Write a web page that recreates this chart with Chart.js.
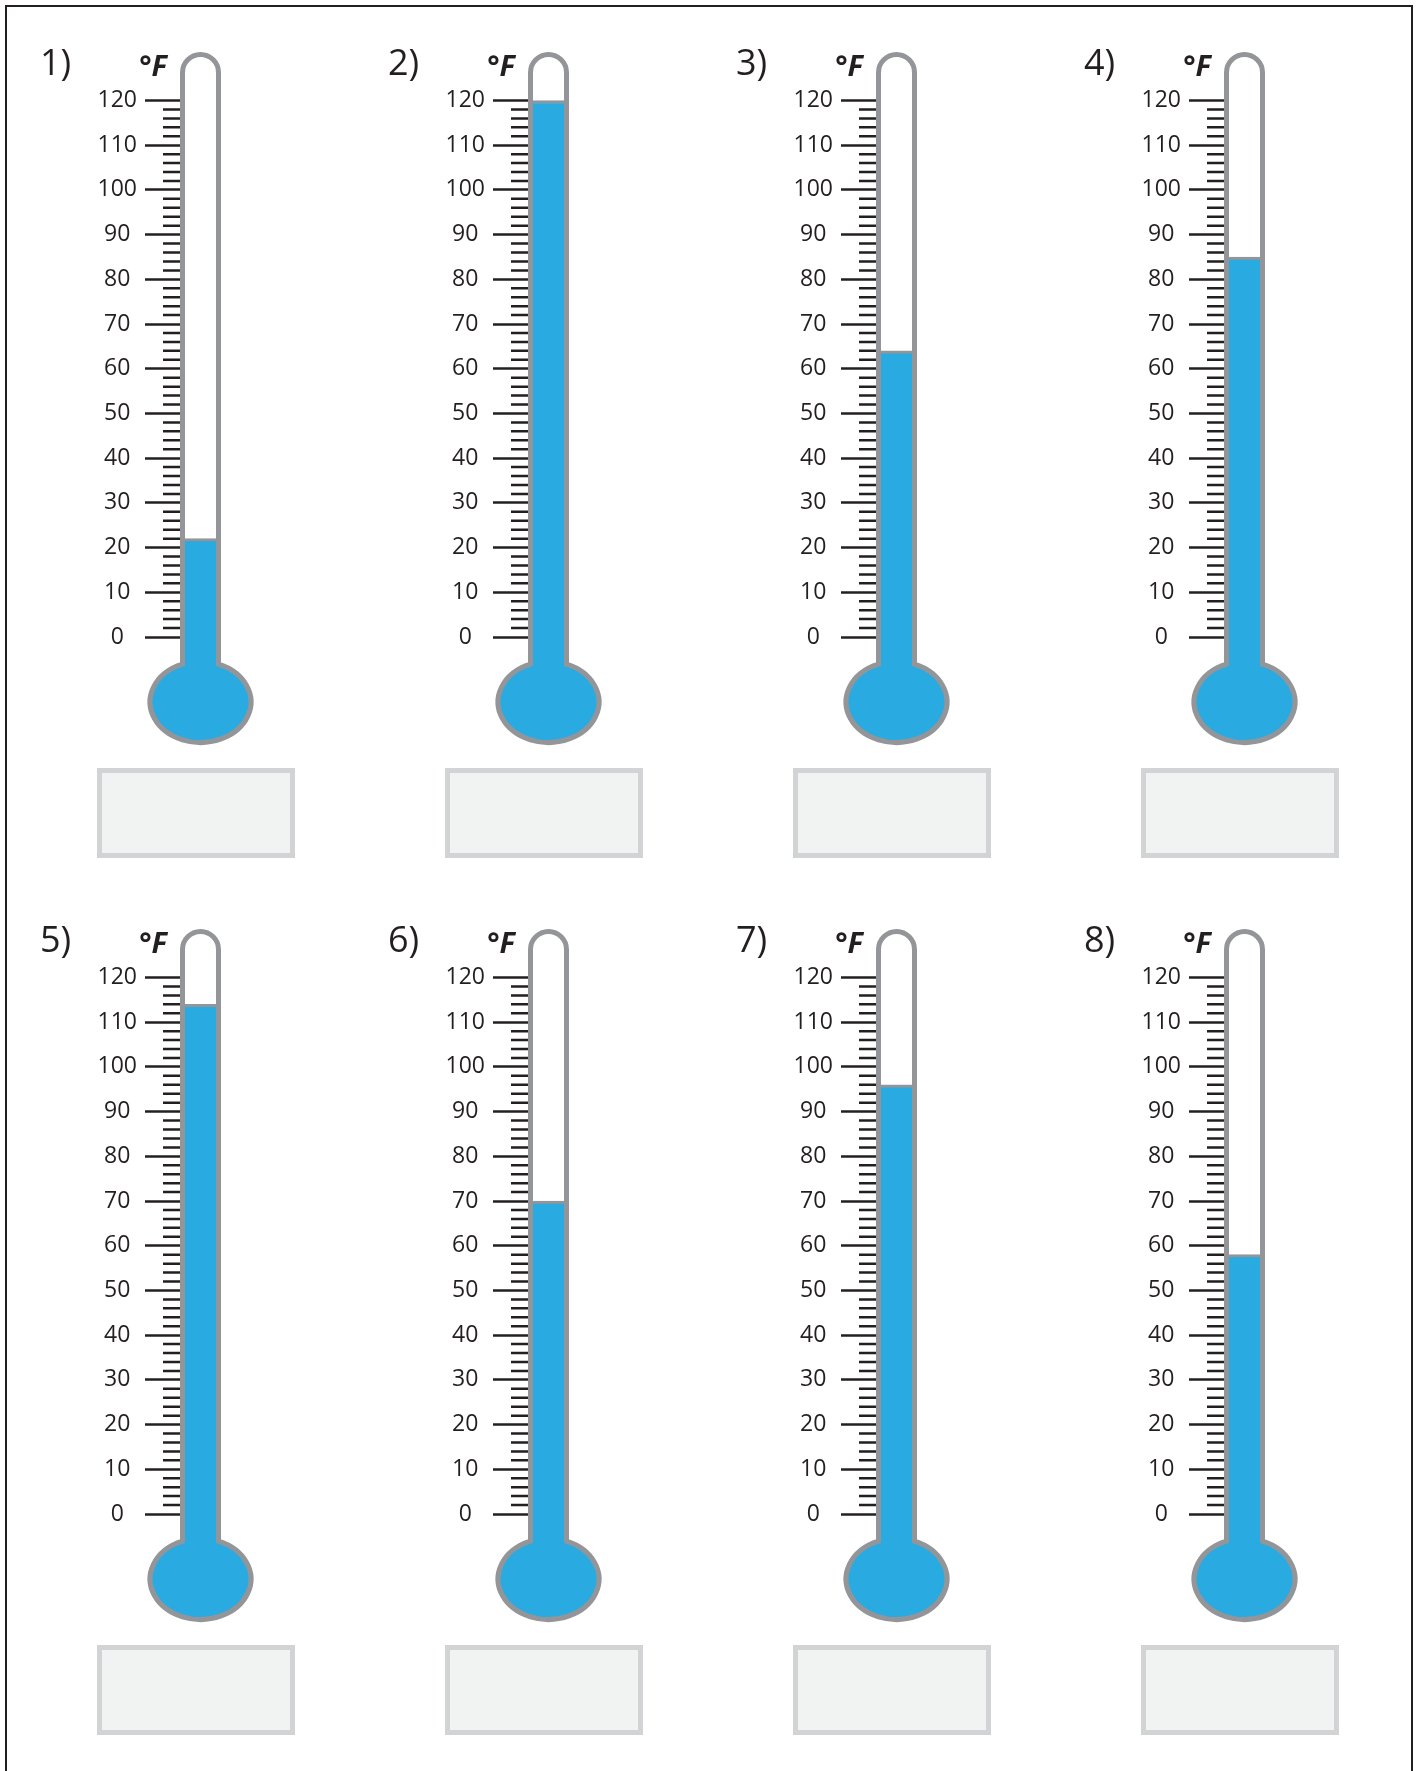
<!DOCTYPE html>
<html>
<head>
<meta charset="utf-8">
<title>Thermometers</title>
<script src="https://cdn.jsdelivr.net/npm/chart.js@4.4.1/dist/chart.umd.min.js"></script>
<style>
  html, body { margin: 0; padding: 0; background: #fff; }
  #page { position: relative; width: 1419px; height: 1771px; overflow: hidden; }
  #frame {
    position: absolute; left: 5px; top: 5px; width: 1408px; height: 1800px;
    box-sizing: border-box; border: 2px solid #231f20; border-bottom: none;
  }
  canvas { position: absolute; }
</style>
</head>
<body>
<div id="page"><div id="frame"></div></div>
<script>
// ── Data ──────────────────────────────────────────────────
const numbers  = ["1)", "2)", "3)", "4)", "5)", "6)", "7)", "8)"];
const temps    = [22, 120, 64, 85, 114, 70, 96, 58];
const unit     = "°F";
const scaleMin = 0;
const scaleMax = 120;
const majorStep = 10;
const minorStep = 2;

// ── Look ──────────────────────────────────────────────────
const CELL_W = 348, CELL_H = 877;
const INK    = "#231f20";
const GLASS  = "#939598";
const LIQUID = "#29abe2";
const FONT   = "'Open Sans', 'Noto Sans', sans-serif";

// ── Thermometer body, minor ticks, labels, answer box ─────
const thermoPlugin = {
  id: "thermo",
  beforeDatasetsDraw(chart) {
    const { ctx, chartArea: a, scales: { y } } = chart;
    const g = glassGeometry(a, y);

    ctx.save();
    // glass interior
    glassPath(ctx, g);
    ctx.fillStyle = "#fff";
    ctx.fill();
    // liquid in neck and bulb
    ctx.fillStyle = LIQUID;
    ctx.fillRect(g.cx - g.hw, y.getPixelForValue(scaleMin) - 1, g.hw * 2, g.jy - y.getPixelForValue(scaleMin) + 6);
    ctx.beginPath();
    ctx.ellipse(g.cx, g.by, g.rx, g.ry, 0, 0, Math.PI * 2);
    ctx.fill();

    // minor ticks
    ctx.strokeStyle = INK;
    ctx.lineWidth = 2.5;
    ctx.beginPath();
    for (let v = scaleMin; v <= scaleMax; v += minorStep) {
      if (v % majorStep === 0) continue;
      const py = y.getPixelForValue(v);
      ctx.moveTo(a.left - 22, py);
      ctx.lineTo(a.left, py);
    }
    ctx.stroke();
    ctx.restore();
  },
  afterDatasetsDraw(chart) {
    const { ctx, chartArea: a, scales: { y } } = chart;
    const g = glassGeometry(a, y);
    ctx.save();
    glassPath(ctx, g);
    ctx.strokeStyle = GLASS;
    ctx.lineWidth = 5;
    ctx.stroke();
    ctx.restore();
  },
  afterDraw(chart, args, opts) {
    const { ctx } = chart;
    ctx.save();
    ctx.fillStyle = INK;
    ctx.textBaseline = "alphabetic";
    ctx.textAlign = "left";
    ctx.font = `36px ${FONT}`;
    ctx.fillText(opts.number, 40, 75);

    ctx.textAlign = "right";
    ctx.font = `italic bold 29px ${FONT}`;
    ctx.fillText(unit, 167, 76);

    // answer box
    ctx.fillStyle = "#f1f2f2";
    ctx.strokeStyle = "#d1d3d4";
    ctx.lineWidth = 5;
    ctx.fillRect(99.5, 770.5, 193, 85);
    ctx.strokeRect(99.5, 770.5, 193, 85);
    ctx.restore();
  }
};

function glassGeometry(a, y) {
  const cx = (a.left + a.right) / 2;
  const hw = (a.right - a.left) / 2 + 2.5;
  const top = y.getPixelForValue(scaleMax);
  const zero = y.getPixelForValue(scaleMin);
  const rx = 50.5, ry = 40.5, by = zero + 65;
  const t = Math.acos(hw / rx);
  const jy = by - ry * Math.sin(t);
  return { cx, hw, arcY: top - 28, rx, ry, by, t, jy };
}

function glassPath(ctx, g) {
  ctx.beginPath();
  ctx.moveTo(g.cx - g.hw, g.jy);
  ctx.lineTo(g.cx - g.hw, g.arcY);
  ctx.arc(g.cx, g.arcY, g.hw, Math.PI, 0);
  ctx.lineTo(g.cx + g.hw, g.jy);
  ctx.ellipse(g.cx, g.by, g.rx, g.ry, 0, -g.t, Math.PI + g.t, false);
  ctx.closePath();
}

// ── Build the eight charts ────────────────────────────────
const page = document.getElementById("page");

temps.forEach((temp, i) => {
  const col = i % 4, row = Math.floor(i / 4);
  const cv = document.createElement("canvas");
  cv.width = CELL_W;
  cv.height = CELL_H;
  cv.style.left = (col * CELL_W) + "px";
  cv.style.top  = (row * CELL_H) + "px";
  cv.style.width = CELL_W + "px";
  cv.style.height = CELL_H + "px";
  page.appendChild(cv);

  new Chart(cv.getContext("2d"), {
    type: "bar",
    data: {
      labels: [numbers[i]],
      datasets: [{
        data: [temp],
        backgroundColor: LIQUID,
        borderColor: GLASS,
        borderWidth: { top: 3, left: 0, right: 0, bottom: 0 },
        borderSkipped: "start",
        barPercentage: 1,
        categoryPercentage: 1,
        clip: false,
      }]
    },
    options: {
      responsive: false,
      animation: false,
      events: [],
      layout: { padding: { top: 100.5, bottom: CELL_H - 637, left: 0, right: CELL_W - 216 } },
      plugins: {
        legend: { display: false },
        tooltip: { enabled: false },
        thermo: { number: numbers[i] },
      },
      scales: {
        x: { display: false },
        y: {
          min: scaleMin,
          max: scaleMax,
          afterFit: s => { s.width = 185; },
          border: { display: false },
          grid: { drawOnChartArea: false, tickLength: 40, tickWidth: 2.5, tickColor: INK },
          ticks: {
            stepSize: majorStep,
            padding: 8,
            crossAlign: "center",
            color: INK,
            font: { family: FONT, size: 23 },
          },
        },
      },
    },
    plugins: [thermoPlugin],
  });
});
</script>
</body>
</html>
